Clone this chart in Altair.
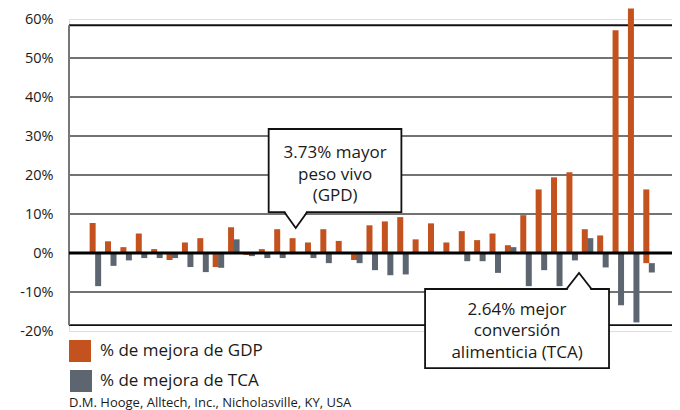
import altair as alt
import pandas as pd

# ---- data ----
pairs = [1, 2, 3, 4, 5, 6, 7, 8, 9, 10, 11, 12, 13, 14, 15, 16, 17, 18, 19,
         20, 21, 22, 23, 24, 25, 26, 27, 28, 29, 30, 31, 32, 33, 34, 35, 36, 37]
gdp = [7.7, 3.0, 1.5, 5.0, 1.0, -1.8, 2.7, 3.8, -3.6, 6.6, -0.5, 1.0, 6.1, 3.8,
       2.7, 6.1, 3.1, -1.8, 7.1, 8.1, 9.2, 3.5, 7.6, 2.7, 5.6, 3.3, 5.0, 2.0,
       9.7, 16.3, 19.4, 20.7, 6.1, 4.5, 57.1, 62.7, 16.3]
gdp_base = [0, 0, 0, 0, 0, 0, 0, 0, 0, 0, 0, 0, 0, 0, 0, 0, 0, 0, 0, 0, 0, 0,
            0, 0, 0, 0, 0, 0, 0, 0, 0, 0, 0, 0, 0, 0, -2.6]
tca = [-8.5, -3.3, -1.9, -1.3, -1.3, -1.3, -3.6, -4.9, -3.8, 3.5, -0.8, -1.3,
       -1.3, 0, -1.3, -2.6, 0, -2.6, -4.4, -5.7, -5.5, 0, 0, 0, -2.1, -2.1,
       -5.1, 1.5, -8.5, -4.4, -8.5, -1.9, 3.8, -3.7, -13.4, -17.8, -5.0]
tca_base = [0, 0, 0, 0, 0, 0, 0, 0, 0, 0, 0, 0, 0, 0, 0, 0, 0, 0, 0, 0, 0, 0,
            0, 0, 0, 0, 0, 0, 0, 0, 0, 0, 0, 0, 0, 0, -2.6]

y_ticks = [-20, -10, 0, 10, 20, 30, 40, 50, 60]
grid_values = [50, 40, 30, 20, 10, -10]
frame_top = 58.4
frame_bottom = -18.5

legend_labels = ["% de mejora de GDP", "% de mejora de TCA"]
source_text = "D.M. Hooge, Alltech, Inc., Nicholasville, KY, USA"

# annotation boxes (pair-index / percent units)
boxes = pd.DataFrame({
    "x1": [12.25, 22.42], "x2": [20.88, 34.38],
    "y1": [31.8, -9.23], "y2": [10.5, -29.5],
})
notes = pd.DataFrame({
    "x": [16.57, 28.4], "y": [25.6, -14.6],
    "label": ["3.73% mayor\npeso vivo\n(GPD)", "2.64% mejor\nconversión\nalimenticia (TCA)"],
})
pointer_down = pd.DataFrame({"x": [14.01], "y": [8.46]})
pointer_up = pd.DataFrame({"x": [32.43], "y": [-7.18]})

ORANGE = "#C4521E"
GRAY = "#5D6670"
FONT = "Open Sans"

df = pd.DataFrame({"pair": pairs, "gdp": gdp, "gdp_base": gdp_base,
                   "tca": tca, "tca_base": tca_base})

xscale = alt.Scale(domain=[-0.407, 38.15], nice=False, zero=False)
yscale = alt.Scale(domain=[-20, 60], nice=False, zero=False)
yaxis = alt.Axis(values=y_ticks, labelExpr="datum.value + '%'",
                 grid=False, domain=False, ticks=False,
                 labelPadding=16, labelFontSize=14.5, labelFont=FONT,
                 labelColor="#1a1a1a", title=None)


def Y(field):
    return alt.Y(field, scale=yscale, axis=yaxis, title=None)


def X(field):
    return alt.X(field, scale=xscale, axis=None, title=None)


grid = alt.Chart(pd.DataFrame({"v": grid_values})).mark_rule(
    color="#454545", strokeWidth=1.5
).encode(y=Y("v:Q"))

frame = alt.Chart(pd.DataFrame({"v": [frame_top, frame_bottom]})).mark_rule(
    color="#111111", strokeWidth=1.8
).encode(y=Y("v:Q"))

left_line = alt.Chart(pd.DataFrame({"a": [frame_top], "b": [frame_bottom]})).mark_rule(
    color="#777777", strokeWidth=2
).encode(x=alt.value(0), y=Y("a:Q"), y2="b:Q")

bars_gdp = alt.Chart(df).mark_bar(width=6, xOffset=-3, color=ORANGE).encode(
    x=X("pair:Q"), y=Y("gdp:Q"), y2="gdp_base:Q",
)
bars_tca = alt.Chart(df).mark_bar(width=6, xOffset=2.5, color=GRAY).encode(
    x=X("pair:Q"), y=Y("tca:Q"), y2="tca_base:Q",
)

zero = alt.Chart(pd.DataFrame({"v": [0]})).mark_rule(
    color="black", strokeWidth=3
).encode(y=Y("v:Q"))

box_layer = alt.Chart(boxes).mark_rect(
    fill="white", stroke="#111111", strokeWidth=1.8
).encode(x=X("x1:Q"), x2="x2:Q", y=Y("y1:Q"), y2="y2:Q")

down_fill = alt.Chart(pointer_down).mark_point(
    shape="M -0.9 -1 L -0.9 -0.7 L 0 0.7 L 0.9 -0.7 L 0.9 -1 Z",
    filled=True, fill="white", size=529, strokeWidth=0, opacity=1
).encode(x=X("x:Q"), y=Y("y:Q"))
down_stroke = alt.Chart(pointer_down).mark_point(
    shape="M -1 -0.7 L 0 0.7 L 1 -0.7",
    filled=False, stroke="#111111", size=529, strokeWidth=1.8, opacity=1
).encode(x=X("x:Q"), y=Y("y:Q"))

up_fill = alt.Chart(pointer_up).mark_point(
    shape="M -0.9 1 L -0.9 0.64 L 0 -0.64 L 0.9 0.64 L 0.9 1 Z",
    filled=True, fill="white", size=625, strokeWidth=0, opacity=1
).encode(x=X("x:Q"), y=Y("y:Q"))
up_stroke = alt.Chart(pointer_up).mark_point(
    shape="M -1 0.64 L 0 -0.64 L 1 0.64",
    filled=False, stroke="#111111", size=625, strokeWidth=1.8, opacity=1
).encode(x=X("x:Q"), y=Y("y:Q"))

note_text = alt.Chart(notes).mark_text(
    font=FONT, fontSize=17, lineBreak="\n", lineHeight=21.5,
    align="center", baseline="middle", color="#1a1a1a"
).encode(x=X("x:Q"), y=Y("y:Q"), text="label:N")

# legend (drawn below the plot area)
leg_sq1 = alt.Chart(pd.DataFrame({"k": [0]})).mark_square(
    size=484, color=ORANGE, opacity=1
).encode(x=alt.value(11), y=alt.value(332))
leg_sq2 = alt.Chart(pd.DataFrame({"k": [0]})).mark_square(
    size=484, color=GRAY, opacity=1
).encode(x=alt.value(12), y=alt.value(362))
leg_t1 = alt.Chart(pd.DataFrame({"t": [legend_labels[0]]})).mark_text(
    font=FONT, fontSize=17, align="left", baseline="middle", color="#1a1a1a"
).encode(x=alt.value(31), y=alt.value(332), text="t:N")
leg_t2 = alt.Chart(pd.DataFrame({"t": [legend_labels[1]]})).mark_text(
    font=FONT, fontSize=17, align="left", baseline="middle", color="#1a1a1a"
).encode(x=alt.value(31), y=alt.value(362), text="t:N")
src = alt.Chart(pd.DataFrame({"t": [source_text]})).mark_text(
    font=FONT, fontSize=13, align="left", baseline="middle", color="#1a1a1a"
).encode(x=alt.value(0), y=alt.value(384), text="t:N")

chart = alt.layer(
    grid, frame, left_line, bars_gdp, bars_tca, zero,
    box_layer, down_fill, down_stroke, up_fill, up_stroke, note_text,
    leg_sq1, leg_sq2, leg_t1, leg_t2, src,
).properties(
    width=603, height=312,
    autosize=alt.AutoSizeParams(type="none"),
    padding={"left": 61, "top": 11, "right": 0, "bottom": 84},
).configure_view(stroke=None).configure(background="white")

chart.save("out.html", embed_options={"renderer": "svg", "actions": False})
